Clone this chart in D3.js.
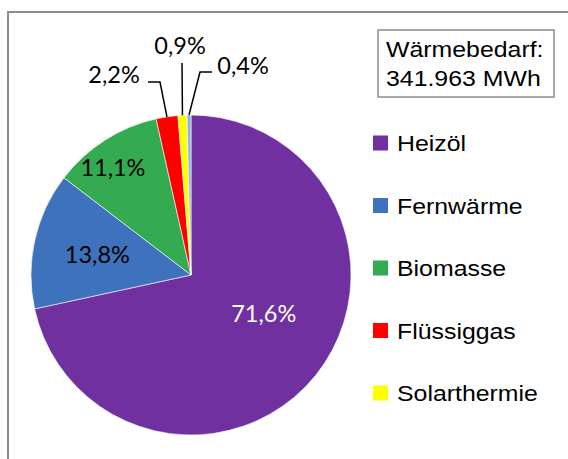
<!DOCTYPE html>
<html>
<head>
<meta charset="utf-8">
<script src="https://cdn.jsdelivr.net/npm/d3@7"></script>
<style>
  html, body { margin: 0; padding: 0; background: #fff; }
  svg { display: block; }
</style>
</head>
<body>
<svg></svg>
<script>
const width = 568;
const height = 459;

const categories = ["Heizöl", "Fernwärme", "Biomasse", "Flüssiggas", "Solarthermie", "Sonstige"];
const shares = [71.6, 13.8, 11.1, 2.2, 0.9, 0.4];
const labels = ["71,6%", "13,8%", "11,1%", "2,2%", "0,9%", "0,4%"];
const legendItems = ["Heizöl", "Fernwärme", "Biomasse", "Flüssiggas", "Solarthermie"];
const infoLines = ["Wärmebedarf:", "341.963 MWh"];

const colors = ["#7030a0", "#3e72bc", "#34ab51", "#ff0000", "#ffff00", "#8db4e2"];

const svg = d3.select("svg").attr("width", width).attr("height", height);

// chart frame (cut off at right and bottom)
svg.append("rect")
  .attr("x", 8).attr("y", 12)
  .attr("width", 600).attr("height", 500)
  .attr("fill", "none")
  .attr("stroke", "#8c8c8c")
  .attr("stroke-width", 2);

const cx = 191, cy = 275, radius = 160;

const pie = d3.pie().sort(null).value(d => d)(shares);
const arc = d3.arc().innerRadius(0).outerRadius(radius);

const g = svg.append("g").attr("transform", `translate(${cx},${cy})`);

g.selectAll("path")
  .data(pie)
  .join("path")
  .attr("d", arc)
  .attr("fill", (d, i) => colors[i])
  .attr("stroke", "#fff")
  .attr("stroke-width", 0.6);

const polar = (a, r) => [r * Math.sin(a), -r * Math.cos(a)];
const mid = d => (d.startAngle + d.endAngle) / 2;

// label layout: inside labels by radius + nudge, outside ones with leader lines
const labelLayout = [
  { r: 96, dx: -2, dy: -22, color: "#fff" },
  { r: 96, dx: 0, dy: 0, color: "#000" },
  { r: 132, dx: -7, dy: 3, color: "#000" },
  { outside: true, tx: -77, ty: -201, elbow: [-31, -193], end: [-43, -193] },
  { outside: true, tx: -11, ty: -230, elbow: null, end: [-9, -212] },
  { outside: true, tx: 52, ty: -210, elbow: [9, -203], end: [21, -203] }
];

pie.forEach((d, i) => {
  const L = labelLayout[i];
  let x, y;
  if (!L.outside) {
    [x, y] = polar(mid(d), L.r);
    x += L.dx; y += L.dy;
  } else {
    x = L.tx; y = L.ty;
    const p0 = polar(mid(d), radius);
    const pts = [p0];
    if (L.elbow) pts.push(L.elbow);
    pts.push(L.end);
    g.append("polyline")
      .attr("points", pts.map(p => p.join(",")).join(" "))
      .attr("fill", "none")
      .attr("stroke", "#000")
      .attr("stroke-width", 1.5);
  }
  g.append("text")
    .attr("x", x).attr("y", y)
    .attr("text-anchor", "middle")
    .attr("dominant-baseline", "central")
    .attr("font-family", "Lato, 'Open Sans', sans-serif")
    .attr("font-size", 23.5)
    .attr("fill", L.color || "#000")
    .text(labels[i]);
});

// info box
const box = svg.append("g");
box.append("rect")
  .attr("x", 378).attr("y", 30)
  .attr("width", 176).attr("height", 67)
  .attr("fill", "#fff")
  .attr("stroke", "#8c8c8c")
  .attr("stroke-width", 1.5);
box.selectAll("text")
  .data(infoLines)
  .join("text")
  .attr("transform", (d, i) => `translate(386,${57 + i * 29}) scale(1.13,1)`)
  .attr("font-family", "'Liberation Sans', Arial, sans-serif")
  .attr("font-size", 22)
  .attr("fill", "#000")
  .text(d => d);

// legend
const legendY = d3.scalePoint().domain(legendItems).range([143, 393]);
const legend = svg.append("g");
const item = legend.selectAll("g")
  .data(legendItems)
  .join("g")
  .attr("transform", d => `translate(373,${legendY(d)})`);
item.append("rect")
  .attr("x", 0).attr("y", -7.5)
  .attr("width", 15).attr("height", 15)
  .attr("fill", (d, i) => colors[i]);
item.append("text")
  .attr("transform", "translate(24,8) scale(1.13,1)")
  .attr("font-family", "'Liberation Sans', Arial, sans-serif")
  .attr("font-size", 22)
  .attr("fill", "#000")
  .text(d => d);
</script>
</body>
</html>
